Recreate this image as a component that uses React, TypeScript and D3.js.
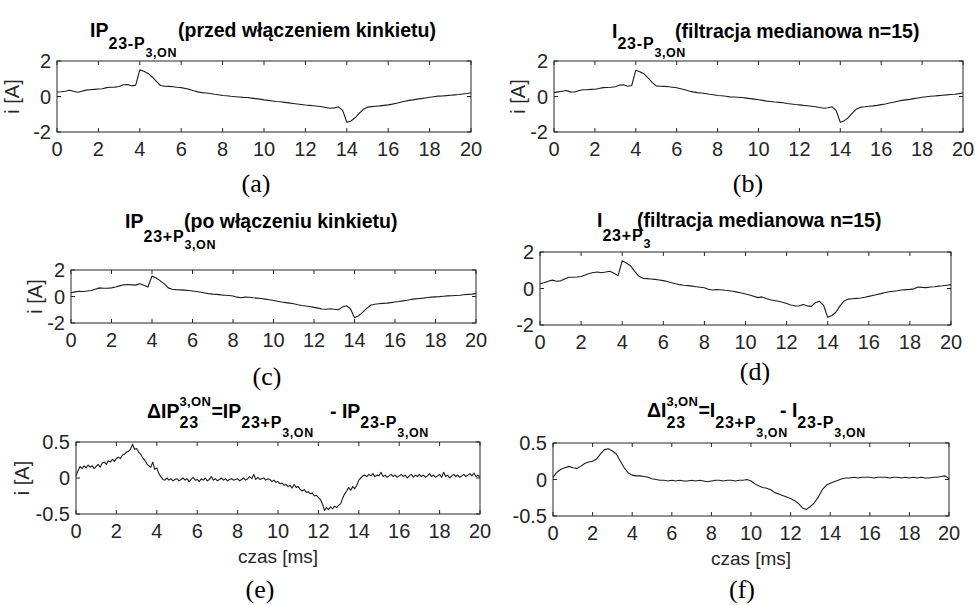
import React, { useEffect, useRef } from "react";
import * as d3 from "d3";

// krok probkowania [ms]
const sampleStep = 0.2;
const sampleStepDiff = 0.1;

const xTicks = [0, 2, 4, 6, 8, 10, 12, 14, 16, 18, 20];
const yTicksCurrent = [-2, 0, 2];
const yTicksDiff = [-0.5, 0, 0.5];

// (a) IP 23-P3,ON przed wlaczeniem kinkietu
const seriesA = [
  0.25, 0.27, 0.3, 0.35, 0.3, 0.24, 0.3, 0.36, 0.38, 0.4,
  0.42, 0.44, 0.5, 0.52, 0.53, 0.56, 0.66, 0.68, 0.6, 0.64,
  1.5, 1.42, 1.3, 1.1, 0.85, 0.62, 0.58, 0.57, 0.55, 0.52,
  0.5, 0.45, 0.4, 0.32, 0.26, 0.22, 0.2, 0.17, 0.13, 0.1,
  0.06, 0.04, 0.01, -0.01, -0.03, -0.05, -0.06, -0.09, -0.12, -0.15,
  -0.19, -0.22, -0.25, -0.28, -0.3, -0.33, -0.36, -0.39, -0.42, -0.45,
  -0.48, -0.5, -0.52, -0.55, -0.58, -0.62, -0.66, -0.64, -0.58, -0.78,
  -1.45, -1.38, -1.2, -0.95, -0.72, -0.6, -0.57, -0.55, -0.53, -0.5,
  -0.47, -0.43, -0.38, -0.32, -0.27, -0.22, -0.19, -0.15, -0.12, -0.08,
  -0.04, -0.01, 0.02, 0.03, 0.05, 0.07, 0.09, 0.11, 0.14, 0.17,
  0.21,
];

// (b) I 23-P3,ON po filtracji medianowej
const seriesB = [
  0.22, 0.26, 0.3, 0.34, 0.26, 0.25, 0.32, 0.38, 0.38, 0.4,
  0.41, 0.45, 0.5, 0.51, 0.52, 0.55, 0.64, 0.66, 0.58, 0.62,
  1.48, 1.4, 1.28, 1.05, 0.8, 0.6, 0.58, 0.57, 0.55, 0.52,
  0.49, 0.44, 0.38, 0.31, 0.26, 0.22, 0.2, 0.17, 0.13, 0.1,
  0.06, 0.04, 0.01, -0.02, -0.03, -0.04, -0.06, -0.09, -0.12, -0.15,
  -0.18, -0.22, -0.26, -0.28, -0.31, -0.33, -0.35, -0.39, -0.42, -0.45,
  -0.47, -0.5, -0.52, -0.55, -0.58, -0.62, -0.66, -0.63, -0.58, -0.8,
  -1.45, -1.36, -1.18, -0.92, -0.7, -0.6, -0.58, -0.55, -0.53, -0.5,
  -0.46, -0.42, -0.37, -0.32, -0.27, -0.22, -0.19, -0.16, -0.12, -0.08,
  -0.04, -0.01, 0.01, 0.03, 0.05, 0.07, 0.09, 0.11, 0.13, 0.16,
  0.2,
];

// (c) IP 23+P3,ON po wlaczeniu kinkietu
const seriesC = [
  0.28, 0.35, 0.4, 0.38, 0.42, 0.45, 0.55, 0.65, 0.62, 0.62,
  0.65, 0.72, 0.8, 0.88, 0.9, 0.88, 0.86, 0.96, 0.85, 0.72,
  1.55, 1.4, 1.2, 0.95, 0.65, 0.55, 0.52, 0.5, 0.48, 0.45,
  0.42, 0.38, 0.32, 0.27, 0.22, 0.18, 0.16, 0.12, 0.1, 0.07,
  0.04, -0.05, -0.1, -0.05, -0.06, -0.1, -0.12, -0.15, -0.2, -0.25,
  -0.3, -0.36, -0.42, -0.46, -0.5, -0.55, -0.62, -0.68, -0.72, -0.76,
  -0.82, -0.88, -0.94, -0.96, -0.92, -0.96, -1.0, -0.8, -0.7, -0.92,
  -1.6, -1.45, -1.2, -0.9, -0.66, -0.58, -0.55, -0.52, -0.5, -0.46,
  -0.42, -0.38, -0.33, -0.28, -0.22, -0.18, -0.15, -0.12, -0.08, -0.05,
  -0.03, -0.01, 0.02, 0.05, 0.06, 0.08, 0.1, 0.13, 0.16, 0.18,
  0.22,
];

// (d) I 23+P3 po filtracji medianowej
const seriesD = [
  0.26, 0.32, 0.4, 0.46, 0.4, 0.42, 0.52, 0.62, 0.62, 0.63,
  0.66, 0.74, 0.82, 0.88, 0.9, 0.86, 0.9, 0.95, 0.84, 0.7,
  1.52, 1.4, 1.25, 0.95, 0.68, 0.56, 0.54, 0.52, 0.5, 0.47,
  0.43, 0.38, 0.32, 0.26, 0.21, 0.18, 0.16, 0.13, 0.1, 0.07,
  0.04, -0.04, -0.08, -0.06, -0.07, -0.1, -0.12, -0.15, -0.2, -0.25,
  -0.3, -0.36, -0.43, -0.5, -0.46, -0.55, -0.62, -0.66, -0.7, -0.75,
  -0.82, -0.9, -0.95, -0.96, -0.88, -0.95, -0.98, -0.78, -0.7, -0.92,
  -1.58, -1.48, -1.3, -0.95, -0.68, -0.58, -0.56, -0.54, -0.52, -0.48,
  -0.43, -0.38, -0.33, -0.28, -0.22, -0.18, -0.15, -0.12, -0.08, -0.06,
  -0.05, -0.02, 0.08, 0.06, 0.05, 0.08, 0.1, 0.13, 0.15, 0.18,
  0.21,
];

// (e) roznica IP, krok 0.1 ms
const seriesE = [
  0.03, 0.1, 0.16, 0.13, 0.17, 0.14, 0.18, 0.15, 0.17, 0.13,
  0.16, 0.19, 0.15, 0.21, 0.22, 0.19, 0.24, 0.22, 0.26, 0.23,
  0.27, 0.29, 0.27, 0.32, 0.33, 0.36, 0.37, 0.4, 0.47, 0.4,
  0.41, 0.36, 0.33, 0.28, 0.25, 0.2, 0.17, 0.15, 0.22, 0.12,
  0.14, 0.06, 0.02, -0.02, -0.03, 0.0, -0.03, -0.01, -0.04, -0.02,
  -0.01, -0.04, -0.02, 0.0, -0.03, -0.01, -0.05, -0.02, 0.01, -0.03,
  -0.02, -0.05, -0.01, -0.03, 0.0, -0.04, -0.02, 0.02, -0.03, -0.01,
  -0.04, -0.02, 0.0, -0.03, -0.01, -0.04, -0.02, -0.01, -0.03, -0.02,
  -0.01, -0.04, -0.02, 0.0, -0.03, -0.01, 0.02, -0.01, 0.05, -0.02,
  0.01, -0.02, -0.01, 0.0, -0.03, -0.01, -0.02, -0.05, -0.03, -0.06,
  -0.05, -0.08, -0.07, -0.1, -0.09, -0.12, -0.1, -0.14, -0.09, -0.13,
  -0.12, -0.16, -0.18, -0.16, -0.2, -0.19, -0.22, -0.21, -0.25, -0.24,
  -0.27, -0.3, -0.36, -0.45, -0.41, -0.44, -0.4, -0.43, -0.39, -0.41,
  -0.38, -0.36, -0.28, -0.22, -0.18, -0.13, -0.17, -0.12, -0.15, -0.1,
  -0.03, 0.0, 0.03, 0.04, 0.02, 0.05, 0.03, 0.06, 0.02, 0.04,
  0.03, 0.08, 0.02, 0.04, 0.01, 0.03, 0.05, 0.02, 0.04, 0.01,
  0.03, 0.05, 0.02, 0.04, 0.0, 0.03, 0.05, 0.01, 0.04, 0.02,
  0.05, 0.02, 0.04, 0.01, 0.03, 0.06, 0.02, 0.04, 0.01, 0.03,
  0.05, 0.01, 0.08, 0.02, 0.04, 0.0, 0.03, 0.05, 0.02, 0.04,
  0.01, 0.03, 0.05, 0.02, 0.04, 0.06, 0.03, 0.07, 0.02, 0.04,
  0.01,
];

// (f) roznica I po filtracji
const seriesF = [
  0.03, 0.1, 0.14, 0.16, 0.18, 0.16, 0.15, 0.18, 0.22, 0.24,
  0.25, 0.28, 0.35, 0.41, 0.42, 0.39, 0.35, 0.25, 0.16, 0.09,
  0.06, 0.05, 0.05, 0.04, 0.03, 0.01, 0.0, -0.01, -0.01, -0.02,
  -0.01, -0.02, -0.01, -0.02, -0.02, -0.01, -0.02, -0.01, -0.02, -0.03,
  -0.02, -0.01, -0.01, -0.02, -0.01, -0.01, -0.02, -0.01, -0.01, 0.0,
  -0.02, -0.06, -0.09, -0.11, -0.12, -0.14, -0.18, -0.2, -0.22, -0.24,
  -0.26, -0.29, -0.33, -0.39, -0.41, -0.37, -0.32, -0.24, -0.14, -0.08,
  -0.05, -0.03, -0.01, 0.01, 0.02, 0.02, 0.03, 0.02, 0.03, 0.03,
  0.03, 0.02, 0.03, 0.03, 0.03, 0.02, 0.03, 0.03, 0.02, 0.03,
  0.02, 0.03, 0.02, 0.03, 0.02, 0.02, 0.03, 0.03, 0.04, 0.05,
  0.01,
];

// teksty tytulow
const titleTextA = ["IP", "23-P", "3,ON", "(przed włączeniem kinkietu)"];
const titleTextB = ["I", "23-P", "3,ON", "(filtracja medianowa n=15)"];
const titleTextC = ["IP", "23+P", "3,ON", "(po włączeniu kinkietu)"];
const titleTextD = ["I", "23+P", "3", "(filtracja medianowa n=15)"];
const titleTextE = ["ΔIP", "3,ON", "23", "=IP", "23+P", "3,ON", "- IP", "23-P", "3,ON"];
const titleTextF = ["ΔI", "3,ON", "23", "=I", "23+P", "3,ON", "- I", "23-P", "3,ON"];

const panelLabels = ["(a)", "(b)", "(c)", "(d)", "(e)", "(f)"];
const yLabelText = "i [A]";
const xLabelText = "czas [ms]";

const sans = "'Liberation Sans', Arial, sans-serif";
const serif = "'Liberation Serif', 'Times New Roman', serif";
const axisColor = "#262626";

// poziom: 0 zwykly, 1 indeks dolny, 2 indeks indeksu, -1 indeks gorny
const levelsSimple = [0, 1, 2, 0];
const levelsDelta = [0, -1, 1, 0, 1, 2, 0, 1, 2];
const levelFont: Record<string, { size: number; spacing: number }> = {
  "0": { size: 19.5, spacing: 0 },
  "1": { size: 16, spacing: 0.8 },
  "2": { size: 12.5, spacing: 0.6 },
  "-1": { size: 13, spacing: 0.4 },
};

// zakotwiczenia x (null = tekst plynie dalej, "stack" = pod poprzednim)
const panels = [
  { values: seriesA, step: sampleStep, left: 57, right: 471, top: 61, bottom: 132, yDomain: [-2, 2], yTicks: yTicksCurrent,
    titleText: titleTextA, titleLevels: levelsSimple, titleAt: [90, null, null, 178],
    titleBase: { "0": 37, "1": 49, "2": 57, "-1": 0 },
    label: panelLabels[0], labelX: 256, labelY: 192, yLabX: 19, clipYLab: null, xLabel: false },
  { values: seriesB, step: sampleStep, left: 554, right: 963, top: 61, bottom: 132, yDomain: [-2, 2], yTicks: yTicksCurrent,
    titleText: titleTextB, titleLevels: levelsSimple, titleAt: [612, null, null, 675],
    titleBase: { "0": 38, "1": 49, "2": 57, "-1": 0 },
    label: panelLabels[1], labelX: 748, labelY: 192, yLabX: 525, clipYLab: null, xLabel: false },
  { values: seriesC, step: sampleStep, left: 71, right: 476, top: 270, bottom: 323, yDomain: [-2, 2], yTicks: yTicksCurrent,
    titleText: titleTextC, titleLevels: levelsSimple, titleAt: [125, null, null, 184],
    titleBase: { "0": 228, "1": 242, "2": 249, "-1": 0 },
    label: panelLabels[2], labelX: 267, labelY: 385, yLabX: 42, clipYLab: null, xLabel: false },
  { values: seriesD, step: sampleStep, left: 540, right: 951, top: 252, bottom: 325, yDomain: [-2, 2], yTicks: yTicksCurrent,
    titleText: titleTextD, titleLevels: levelsSimple, titleAt: [597, null, null, 637],
    titleBase: { "0": 227, "1": 241, "2": 248, "-1": 0 },
    label: panelLabels[3], labelX: 755, labelY: 380, yLabX: 505, clipYLab: 506, xLabel: false },
  { values: seriesE, step: sampleStepDiff, left: 76, right: 480, top: 442, bottom: 514, yDomain: [-0.5, 0.5], yTicks: yTicksDiff,
    titleText: titleTextE, titleLevels: levelsDelta, titleAt: [147, null, "stack", null, null, null, 330, null, null],
    titleBase: { "0": 418, "1": 428, "2": 437, "-1": 406 },
    label: panelLabels[4], labelX: 260, labelY: 598, yLabX: 29, clipYLab: null, xLabel: true },
  { values: seriesF, step: sampleStep, left: 553, right: 949, top: 443, bottom: 516, yDomain: [-0.5, 0.5], yTicks: yTicksDiff,
    titleText: titleTextF, titleLevels: levelsDelta, titleAt: [647, null, "stack", null, null, null, 780, null, null],
    titleBase: { "0": 417, "1": 428, "2": 437, "-1": 406 },
    label: panelLabels[5], labelX: 742, labelY: 598, yLabX: 505, clipYLab: 506, xLabel: true },
];

const drawPanel = (svg: any, p: any, idx: number) => {
  const x = d3.scaleLinear().domain([0, 20]).range([p.left, p.right]);
  const y = d3.scaleLinear().domain(p.yDomain).range([p.bottom, p.top]);
  const g = svg.append("g");

  // przebieg
  const line = d3
    .line<number>()
    .x((_, i) => x(i * p.step))
    .y((d) => y(d));
  g.append("path")
    .datum(p.values)
    .attr("d", line)
    .attr("fill", "none")
    .attr("stroke", "#1c1c1c")
    .attr("stroke-width", 1.1)
    .attr("stroke-linejoin", "round");

  // ramka osi
  g.append("rect")
    .attr("x", p.left)
    .attr("y", p.top)
    .attr("width", p.right - p.left)
    .attr("height", p.bottom - p.top)
    .attr("fill", "none")
    .attr("stroke", axisColor)
    .attr("stroke-width", 1);

  const tickLen = 4;
  xTicks.forEach((t) => {
    g.append("line").attr("x1", x(t)).attr("x2", x(t)).attr("y1", p.bottom).attr("y2", p.bottom - tickLen).attr("stroke", axisColor);
    g.append("line").attr("x1", x(t)).attr("x2", x(t)).attr("y1", p.top).attr("y2", p.top + tickLen).attr("stroke", axisColor);
    g.append("text")
      .attr("x", x(t))
      .attr("y", p.bottom + 24)
      .attr("text-anchor", "middle")
      .attr("font-family", sans)
      .attr("font-size", 20)
      .attr("fill", axisColor)
      .text(t);
  });

  p.yTicks.forEach((v: number) => {
    g.append("line").attr("x1", p.left).attr("x2", p.left + tickLen).attr("y1", y(v)).attr("y2", y(v)).attr("stroke", axisColor);
    g.append("line").attr("x1", p.right).attr("x2", p.right - tickLen).attr("y1", y(v)).attr("y2", y(v)).attr("stroke", axisColor);
    g.append("text")
      .attr("x", p.left - 6)
      .attr("y", y(v) + 7)
      .attr("text-anchor", "end")
      .attr("font-family", sans)
      .attr("font-size", 20)
      .attr("fill", axisColor)
      .text(v);
  });

  // opis osi Y (w (d) i (f) uciety przez sasiedni wykres)
  const yLab = g.append("text")
    .attr("transform", `translate(${p.yLabX},${(p.top + p.bottom) / 2}) rotate(-90)`)
    .attr("text-anchor", "middle")
    .attr("font-family", sans)
    .attr("font-size", 20)
    .attr("fill", axisColor)
    .text(yLabelText);
  if (p.clipYLab !== null) {
    const id = `clipYLab${idx}`;
    svg.append("clipPath").attr("id", id).append("rect").attr("x", p.clipYLab).attr("y", p.top).attr("width", 30).attr("height", p.bottom - p.top);
    yLab.attr("clip-path", `url(#${id})`);
  }

  if (p.xLabel) {
    g.append("text")
      .attr("x", (p.left + p.right) / 2)
      .attr("y", p.bottom + 49)
      .attr("text-anchor", "middle")
      .attr("font-family", sans)
      .attr("font-size", 19)
      .attr("fill", axisColor)
      .text(xLabelText);
  }

  // tytul z indeksami, tekst plynie od lewej
  let cx = 0;
  let prevX = 0;
  p.titleText.forEach((txt: string, k: number) => {
    const lvl = String(p.titleLevels[k]);
    const at = p.titleAt[k];
    const f = levelFont[lvl];
    const px = at === "stack" ? prevX : at ?? cx;
    const el = g.append("text")
      .attr("x", px)
      .attr("y", p.titleBase[lvl])
      .attr("font-family", sans)
      .attr("font-weight", "bold")
      .attr("font-size", f.size)
      .attr("letter-spacing", f.spacing)
      .attr("fill", "#000")
      .text(txt);
    const w = (el.node() as SVGTextElement).getComputedTextLength();
    cx = at === "stack" ? Math.max(cx, px + w) : px + w;
    prevX = px;
  });

  // oznaczenie wykresu
  g.append("text")
    .attr("x", p.labelX)
    .attr("y", p.labelY)
    .attr("text-anchor", "middle")
    .attr("font-family", serif)
    .attr("font-size", 26)
    .attr("fill", "#000")
    .text(p.label);
};

export default function App() {
  const svgRef = useRef<SVGSVGElement>(null);

  useEffect(() => {
    const svg = d3.select(svgRef.current);
    svg.selectAll("*").remove();
    panels.forEach((p, i) => drawPanel(svg, p, i));
  }, []);

  return (
    <div style={{ position: "absolute", left: 0, top: 0 }}>
      <svg ref={svgRef} width={975} height={605} style={{ display: "block", background: "#fff" }} />
    </div>
  );
}
